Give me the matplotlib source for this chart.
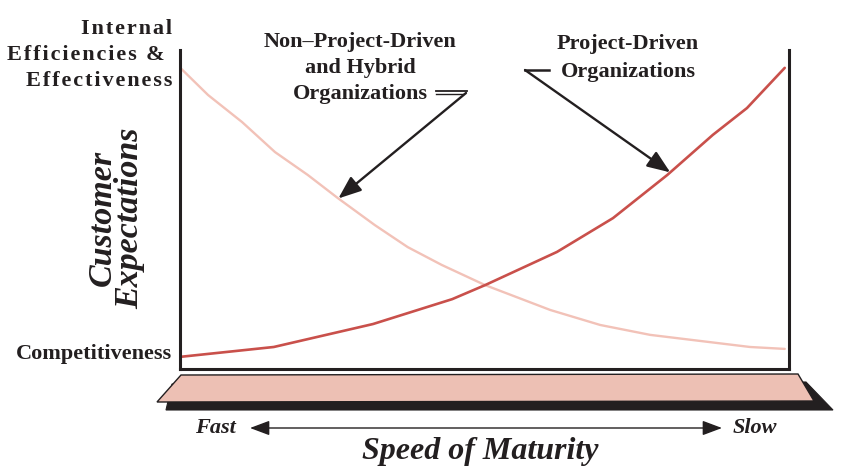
import numpy as np
import matplotlib.pyplot as plt
from matplotlib.patches import Polygon

# curve data, x and y both on a 0..100 scale
x_proj = [0, 15.4, 31.7, 44.7, 50.1, 61.9, 71.1, 80.0, 87.5, 93.1, 99.3]
y_proj = [3.8, 6.9, 14.1, 21.9, 26.3, 36.7, 47.3, 60.8, 73.4, 81.8, 94.4]

x_non = [0, 4.6, 10.2, 15.6, 21.0, 25.9, 32.0, 37.4, 43.0, 50.1,
         60.8, 69.0, 77.2, 85.4, 93.6, 99.3]
y_non = [94.5, 85.9, 77.4, 68.0, 60.8, 53.6, 45.1, 38.2, 32.6, 26.3,
         18.5, 13.8, 10.7, 8.8, 6.9, 6.3]

label_top = ["Internal", "Efficiencies & ", "Effectiveness"]
label_bottom = "Competitiveness"
label_y = "Customer\nExpectations"
label_x = "Speed of Maturity"
label_non = "Non\u2013Project-Driven\nand Hybrid\nOrganizations"
label_proj = "Project-Driven\nOrganizations"

serif = ['Liberation Serif', 'DejaVu Serif']
ink = '#231F20'
red = '#C9504B'
pale = '#F2C2B8'
slab = '#EDC0B4'

W, H = 843, 475
fig = plt.figure(figsize=(W / 100, H / 100), dpi=100)

# overlay axes in pixel coords for decorations
deco = fig.add_axes([0, 0, 1, 1])
deco.set_xlim(0, W)
deco.set_ylim(H, 0)
deco.axis('off')

ax = fig.add_axes([180 / W, 1 - 369 / H, 609 / W, 319 / H])
ax.set_xlim(0, 100)
ax.set_ylim(0, 100)
ax.patch.set_alpha(0)
ax.spines['top'].set_visible(False)
for s in ['left', 'right', 'bottom']:
    ax.spines[s].set_linewidth(2.2)
    ax.spines[s].set_color(ink)
ax.set_xticks([])
ax.set_yticks([])

ax.plot(x_non, y_non, color=pale, lw=1.7, solid_capstyle='round',
        solid_joinstyle='round')
ax.plot(x_proj, y_proj, color=red, lw=1.9, solid_capstyle='round',
        solid_joinstyle='round')

# slab under the frame
shadow = Polygon([(172, 384), (806, 382), (833, 410), (166, 410)],
                 closed=True, facecolor=ink, edgecolor=ink, lw=0.8)
top = Polygon([(181, 375), (798, 374), (814, 401), (157, 402)],
              closed=True, facecolor=slab, edgecolor=ink, lw=1.0)
deco.add_patch(shadow)
deco.add_patch(top)

# speed arrow
deco.annotate('', xy=(250, 428), xytext=(722, 428),
              arrowprops=dict(arrowstyle='<|-|>,head_length=1.2,head_width=0.45',
                              color=ink, lw=1.0, shrinkA=0, shrinkB=0))
deco.text(215, 428, "Fast", ha='center', va='center', family=serif,
          style='italic', weight='bold', fontsize=16, color=ink)
deco.text(755, 428, "Slow", ha='center', va='center', family=serif,
          style='italic', weight='bold', fontsize=16, color=ink)
deco.text(480, 452, label_x, ha='center', va='center', family=serif,
          style='italic', weight='bold', fontsize=23, color=ink)

# left labels
sp = '\u200a'
for i, line in enumerate(label_top):
    deco.text(172, 29 + i * 26, sp.join(line), ha='right', va='center',
              family=serif, weight='bold', fontsize=16, color=ink)
deco.text(172, 354, label_bottom, ha='right', va='center', family=serif,
          weight='bold', fontsize=16, color=ink)
deco.text(116, 218, label_y, ha='center', va='center', rotation=90,
          family=serif, style='italic', weight='bold', fontsize=24.5,
          color=ink, linespacing=0.85)

# callouts
deco.text(360, 68, label_non, ha='center', va='center', family=serif,
          weight='bold', fontsize=16, color=ink, linespacing=1.39)
deco.text(628, 58, label_proj, ha='center', va='center', family=serif,
          weight='bold', fontsize=16, color=ink, linespacing=1.5)

deco.plot([436, 467], [91, 91], color=ink, lw=1.3)
deco.plot([436, 463], [94, 94], color=ink, lw=1.0)
deco.plot([525, 549], [70, 70], color=ink, lw=1.8)

# arrow tips sit on the curves
xn = 26.0
xp = 80.5
tip_non = (xn, np.interp(xn, x_non, y_non))
tip_proj = (xp, np.interp(xp, x_proj, y_proj))
ax.annotate('', xy=tip_non, xycoords='data',
            xytext=(466, 93), textcoords=deco.transData,
            arrowprops=dict(arrowstyle='-|>,head_length=1.4,head_width=0.55',
                            color=ink, lw=1.7, shrinkA=0, shrinkB=0))
ax.annotate('', xy=tip_proj, xycoords='data',
            xytext=(525, 70), textcoords=deco.transData,
            arrowprops=dict(arrowstyle='-|>,head_length=1.4,head_width=0.55',
                            color=ink, lw=1.7, shrinkA=0, shrinkB=0))

fig.savefig('out.png', dpi=100)
